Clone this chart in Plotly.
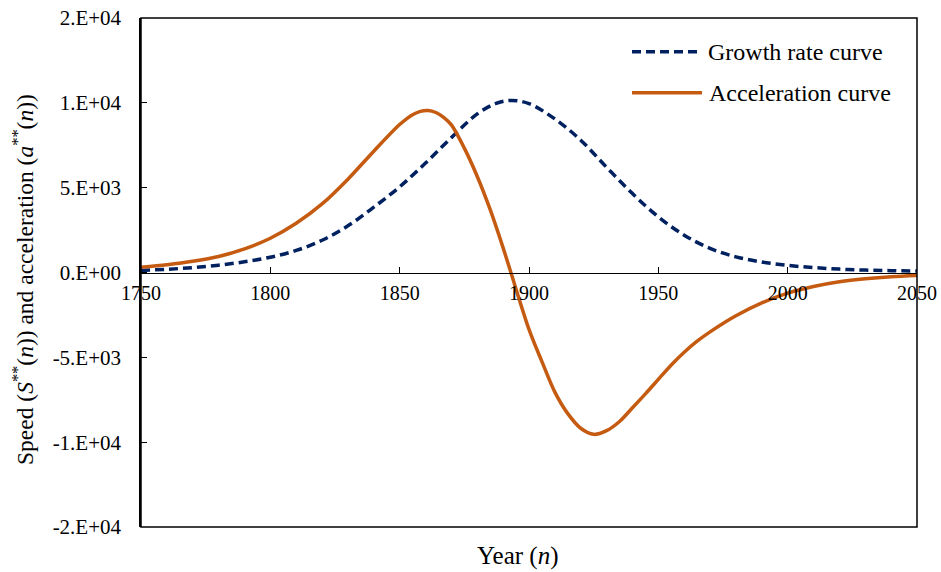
import plotly.graph_objects as go

# Growth rate curve S**(n)
growth_years = [1750, 1760, 1770, 1780, 1790, 1800, 1810, 1820, 1830, 1840, 1850, 1860, 1870,
                1880, 1887, 1893, 1900, 1910, 1920, 1930, 1940, 1950, 1960, 1970, 1980, 1990,
                2000, 2010, 2020, 2030, 2040, 2050]
growth_vals = [120, 190, 290, 430, 630, 900, 1300, 1900, 2750, 3850, 5050, 6450, 7950,
               9350, 9950, 10140, 9950, 9050, 7800, 6200, 4650, 3280, 2200, 1420, 920, 620,
               420, 290, 200, 140, 110, 90]

# Acceleration curve a**(n)
accel_years = [1750, 1760, 1770, 1780, 1790, 1800, 1810, 1820, 1830, 1840, 1850, 1855, 1858,
               1861, 1864, 1867, 1870, 1875, 1880, 1885, 1890, 1893, 1900, 1905, 1910, 1915,
               1920, 1925, 1930, 1935, 1940, 1945, 1950, 1955, 1960, 1965, 1970, 1980, 1990,
               2000, 2010, 2020, 2030, 2040, 2050]
accel_vals = [310, 460, 660, 940, 1390, 2020, 2900, 4040, 5500, 7150, 8720, 9300, 9500,
              9550, 9430, 9150, 8700, 7330, 5660, 3700, 1450, 0, -3350, -5250, -7050, -8320,
              -9180, -9540, -9320, -8780, -7970, -7150, -6300, -5450, -4700, -4050, -3500,
              -2550, -1790, -1220, -830, -550, -370, -250, -180]

y_tickvals = [-15000, -10000, -5000, 0, 5000, 10000, 15000]
y_ticktext = ["-2.E+04", "-1.E+04", "-5.E+03", "0.E+00", "5.E+03", "1.E+04", "2.E+04"]
x_tickvals = [1750, 1800, 1850, 1900, 1950, 2000, 2050]

series_names = ["Growth rate curve", "Acceleration curve"]
colors = ["#002060", "#C55A11"]

FONT = "Liberation Serif, Times New Roman, serif"

fig = go.Figure()
fig.add_trace(go.Scatter(x=growth_years, y=growth_vals, mode="lines", name=series_names[0],
                         line=dict(color=colors[0], width=3.5, dash="9px,5px", shape="spline", smoothing=1.0),
                         showlegend=False))
fig.add_trace(go.Scatter(x=accel_years, y=accel_vals, mode="lines", name=series_names[1],
                         line=dict(color=colors[1], width=3.5, shape="spline", smoothing=0.9),
                         showlegend=False))

W, H = 941, 572
L, R, T, B = 141, 24, 18, 45
pw, ph = W - L - R, H - T - B

def px2paper_x(px):
    return (px - L) / pw

def px2paper_y(py):
    return (H - B - py) / ph

shapes = [
    dict(type="rect", xref="paper", yref="paper", x0=0, x1=1, y0=0, y1=1,
         line=dict(color="black", width=1.5), fillcolor="rgba(0,0,0,0)"),
    dict(type="line", xref="paper", yref="paper", x0=px2paper_x(632), x1=px2paper_x(702),
         y0=px2paper_y(51.7), y1=px2paper_y(51.7), line=dict(color=colors[0], width=3.5, dash="9px,5px")),
    dict(type="line", xref="paper", yref="paper", x0=px2paper_x(632), x1=px2paper_x(702),
         y0=px2paper_y(92.7), y1=px2paper_y(92.7), line=dict(color=colors[1], width=3.5)),
]

ytitle = "Speed (<i>S</i><sup>**</sup>(<i>n</i>)) and acceleration (<i>a</i><sup>**</sup>(<i>n</i>))"

annotations = [
    dict(text=series_names[0], xref="paper", yref="paper", x=px2paper_x(706), y=px2paper_y(51.7),
         xanchor="left", yanchor="middle", showarrow=False, font=dict(family=FONT, size=24, color="black")),
    dict(text=series_names[1], xref="paper", yref="paper", x=px2paper_x(707), y=px2paper_y(92.7),
         xanchor="left", yanchor="middle", showarrow=False, font=dict(family=FONT, size=24, color="black")),
    dict(text="Year (<i>n</i>)", xref="paper", yref="paper", x=px2paper_x(517), y=px2paper_y(556),
         xanchor="center", yanchor="middle", showarrow=False, font=dict(family=FONT, size=25, color="black")),
    dict(text=ytitle, xref="paper", yref="paper", x=px2paper_x(23), y=px2paper_y(280), textangle=-90,
         xanchor="center", yanchor="middle", showarrow=False, font=dict(family=FONT, size=23.5, color="black")),
]

fig.update_layout(
    width=W, height=H,
    margin=dict(l=L, r=R, t=T, b=B, autoexpand=False),
    paper_bgcolor="white", plot_bgcolor="white",
    font=dict(family=FONT, size=19, color="black"),
    shapes=shapes, annotations=annotations,
    showlegend=False,
    xaxis=dict(range=[1750, 2050], tickvals=x_tickvals, ticks="inside", ticklen=6, tickwidth=1,
               tickcolor="black", showline=True, linecolor="black", linewidth=1,
               anchor="free", position=0.5, showgrid=False, zeroline=False,
               tickfont=dict(family=FONT, size=20, color="black"), ticklabelstandoff=2),
    yaxis=dict(range=[-15000, 15000], tickvals=y_tickvals, ticktext=y_ticktext, ticks="inside",
               ticklen=6, tickwidth=1, tickcolor="black", showline=True, linecolor="black", linewidth=1.5,
               showgrid=False, zeroline=False, tickfont=dict(family=FONT, size=21, color="black"),
               ticklabelstandoff=14),
)

fig.write_html("out.html", config={"displayModeBar": False},
               post_script="document.body.style.margin='0';document.body.style.padding='0';")
